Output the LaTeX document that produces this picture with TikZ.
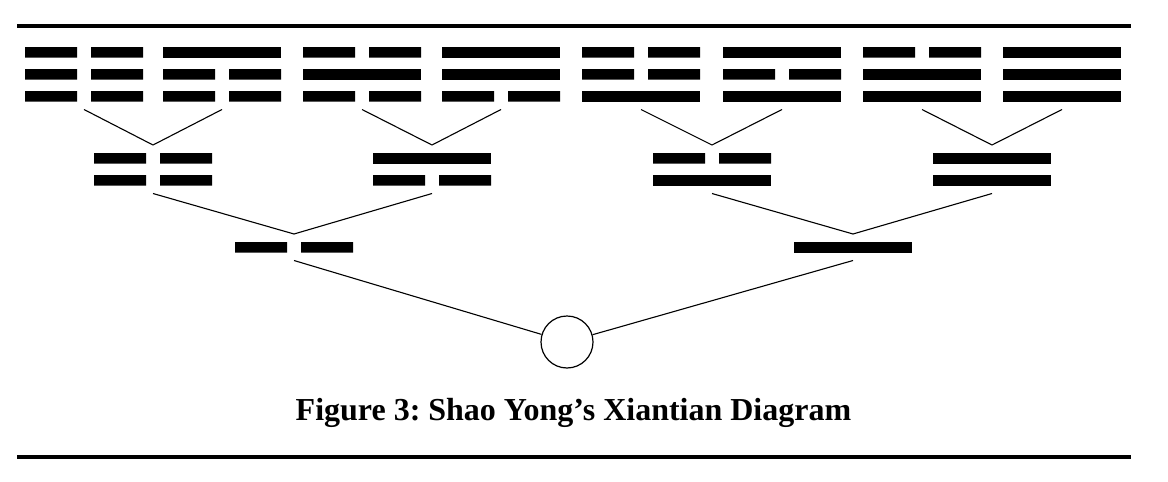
\documentclass[tikz,border=0pt]{standalone}
\usepackage{fontspec}
\setmainfont{Liberation Serif}
\usetikzlibrary{positioning}
\frenchspacing

% one figure of the tree: #1 style, #2 name, #3 centre, #4 lines from top (1 = whole, 0 = broken)
\newcommand{\gram}[4]{%
  \node[#1] (#2) at #3 {};
  \foreach \b [count=\i from 0] in {#4} {
    \ifnum\b=1
      \fill ([yshift=-4pt-\i*11pt]#2.north west) rectangle ++(118,10.5);
    \else
      \fill ([yshift=-4pt-\i*11pt]#2.north west) rectangle ++(52,10.5)
            ([yshift=-4pt-\i*11pt]#2.north east) rectangle ++(-52,10.5);
    \fi
  }%
}

\begin{document}
\begin{tikzpicture}[
    x=0.5pt, y=-0.5pt,
    gram/.style={rectangle, minimum width=59pt, inner sep=0pt, outer xsep=0pt, outer ysep=4pt},
    trigram/.style={gram, minimum height=27.25pt},
    digram/.style={gram, minimum height=16.25pt},
    monogram/.style={gram, minimum height=5.25pt},
    taiji/.style={circle, draw, line width=0.6pt, minimum size=26pt, inner sep=0pt},
    link/.style={line width=0.55pt},
    rule/.style={line width=2pt}
]
\useasboundingbox (0,0) rectangle (1168,482);

% Rules
\draw[rule] (17,26) -- (1131,26);
\draw[rule] (17,457) -- (1131,457);

% Trigrams
\gram{trigram}{kun}{(84,74.25)}{0,0,0}
\gram{trigram}{gen}{(222,74.25)}{1,0,0}
\gram{trigram}{kan}{(362,74.25)}{0,1,0}
\gram{trigram}{xun}{(501,74.25)}{1,1,0}
\gram{trigram}{zhen}{(641,74.25)}{0,0,1}
\gram{trigram}{li}{(782,74.25)}{1,0,1}
\gram{trigram}{dui}{(922,74.25)}{0,1,1}
\gram{trigram}{qian}{(1062,74.25)}{1,1,1}

% Digrams
\gram{digram}{taiyin}{(153,169.25)}{0,0}
\gram{digram}{shaoyang}{(432,169.25)}{1,0}
\gram{digram}{shaoyin}{(712,169.25)}{0,1}
\gram{digram}{taiyang}{(992,169.25)}{1,1}

% Monograms
\gram{monogram}{yin}{(294,247.25)}{0}
\gram{monogram}{yang}{(853,247.25)}{1}

\node[taiji] (taiji) at (567,342) {};

% Edges
\draw[link] (kun.south) -- (taiyin.north) -- (gen.south);
\draw[link] (kan.south) -- (shaoyang.north) -- (xun.south);
\draw[link] (zhen.south) -- (shaoyin.north) -- (li.south);
\draw[link] (dui.south) -- (taiyang.north) -- (qian.south);

\draw[link] (taiyin.south) -- (yin.north) -- (shaoyang.south);
\draw[link] (shaoyin.south) -- (yang.north) -- (taiyang.south);

\draw[link] (yin.south) -- (taiji);
\draw[link] (taiji) -- (yang.south);

% Caption
\node[font=\bfseries\fontsize{16}{19}\selectfont, anchor=base, inner sep=0pt] (caption) at (573.5,420) {Figure 3: Shao Yong’s Xiantian Diagram};

\end{tikzpicture}
\end{document}
